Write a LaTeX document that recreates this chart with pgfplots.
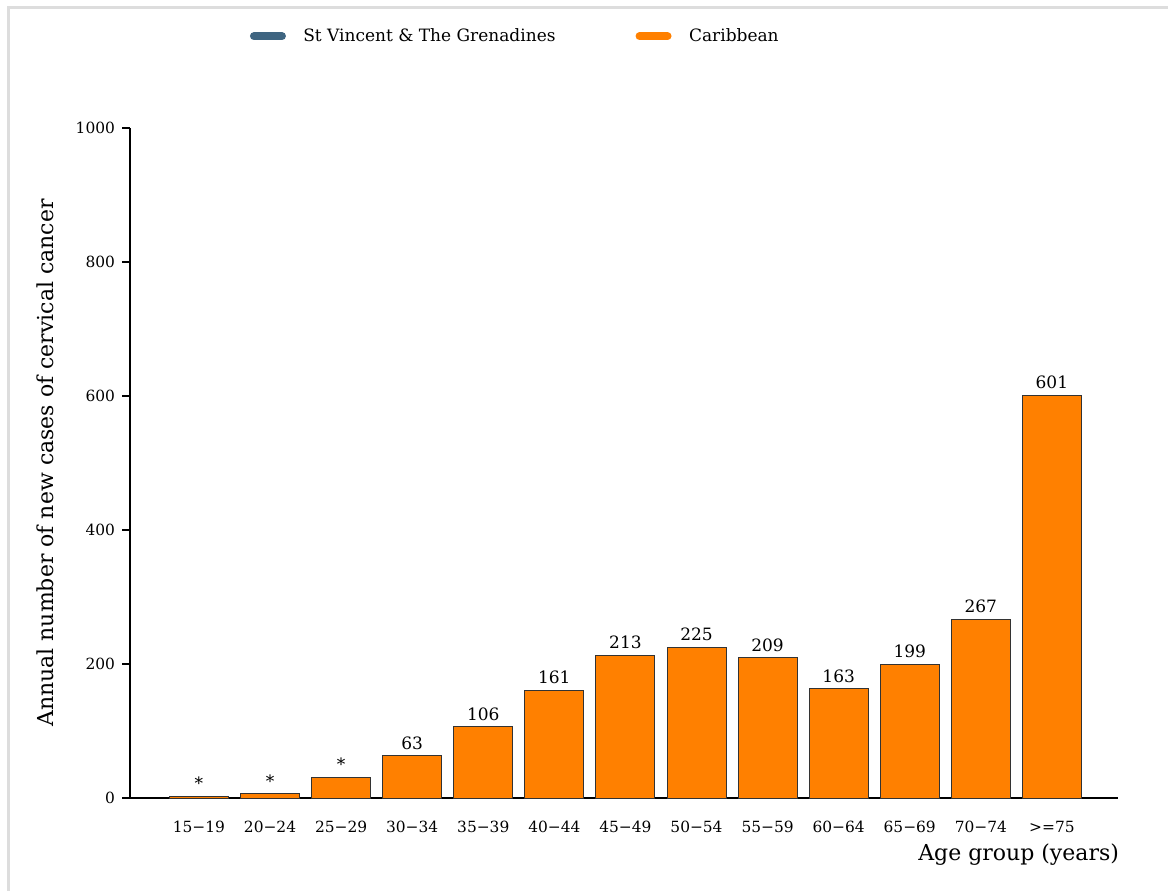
\documentclass[border=0pt]{standalone}
\usepackage{fontspec}
\setmainfont{DejaVu Serif}
\usepackage{pgfplots}
\usepackage{pgfplotstable}
\pgfplotsset{compat=1.18}
\definecolor{carib}{HTML}{FF8000}
\definecolor{stv}{HTML}{3F6581}
\definecolor{framegray}{HTML}{DDDDDD}
\pgfplotstableread{
x y lab
0 3 *
1 6 *
2 31 *
3 63 63
4 106 106
5 161 161
6 213 213
7 225 225
8 209 209
9 163 163
10 199 199
11 267 267
12 601 601
}\cases
\begin{document}
\begin{tikzpicture}
\useasboundingbox (0,0) rectangle (584pt,-445pt);
\draw[framegray, line width=1.5pt] (4pt,-450pt) -- (4pt,-3.5pt) -- (590pt,-3.5pt);
\begin{axis}[
  at={(65pt,-399pt)}, anchor=south west,
  scale only axis, width=494pt, height=335pt,
  xmin=-0.97, xmax=12.93, ymin=0, ymax=1000,
  axis x line*=bottom, axis y line*=left,
  axis line style={line width=0.6pt},
  ybar, bar width=29.5pt,
  xtick=data,
  xticklabels={15−19,20−24,25−29,30−34,35−39,40−44,45−49,50−54,55−59,60−64,65−69,70−74,>=75},
  x tick style={draw=none},
  ytick={0,200,400,600,800,1000},
  y tick style={line width=0.6pt, black},
  tick align=outside, major tick length=4pt,
  /pgf/number format/assume math mode=true,
  /pgf/number format/1000 sep={},
  yticklabel style={font=\fontsize{7.7}{9}\selectfont},
  xticklabel style={font=\fontsize{7.7}{9}\selectfont, yshift=-4pt},
  xlabel={Age group (years)},
  xlabel style={font=\fontsize{11}{13}\selectfont, at={(axis description cs:1,-0.084)}, anchor=east, xshift=4pt},
  ylabel={Annual number of new cases of cervical cancer},
  ylabel style={font=\fontsize{11}{13}\selectfont, at={(axis description cs:-0.086,0.5)}, anchor=center},
  nodes near coords, point meta=explicit symbolic,
  every node near coord/.append style={font=\fontsize{8.5}{10}\selectfont, inner sep=1.5pt, yshift=1.5pt},
  legend columns=2,
  legend style={draw=none, fill=none, at={(axis description cs:0.121,1.137)}, anchor=west,
    font=\fontsize{8.5}{10}\selectfont, inner sep=0pt,
    /tikz/every even column/.append style={column sep=38pt}},
  legend cell align=left,
]
\addlegendimage{legend image code/.code={\draw[stv, line width=4pt, line cap=round] (2pt,0pt) -- (16pt,0pt); \path (24.5pt,0pt);}}
\addlegendentry{St Vincent \& The Grenadines}
\addplot[fill=carib, draw=black!80, line width=0.5pt,
  legend image code/.code={\draw[carib, line width=4pt, line cap=round] (2pt,0pt) -- (16pt,0pt); \path (24.5pt,0pt);}]
  table[x=x, y=y, meta=lab] {\cases};
\addlegendentry{Caribbean}
\end{axis}
\end{tikzpicture}
\end{document}
